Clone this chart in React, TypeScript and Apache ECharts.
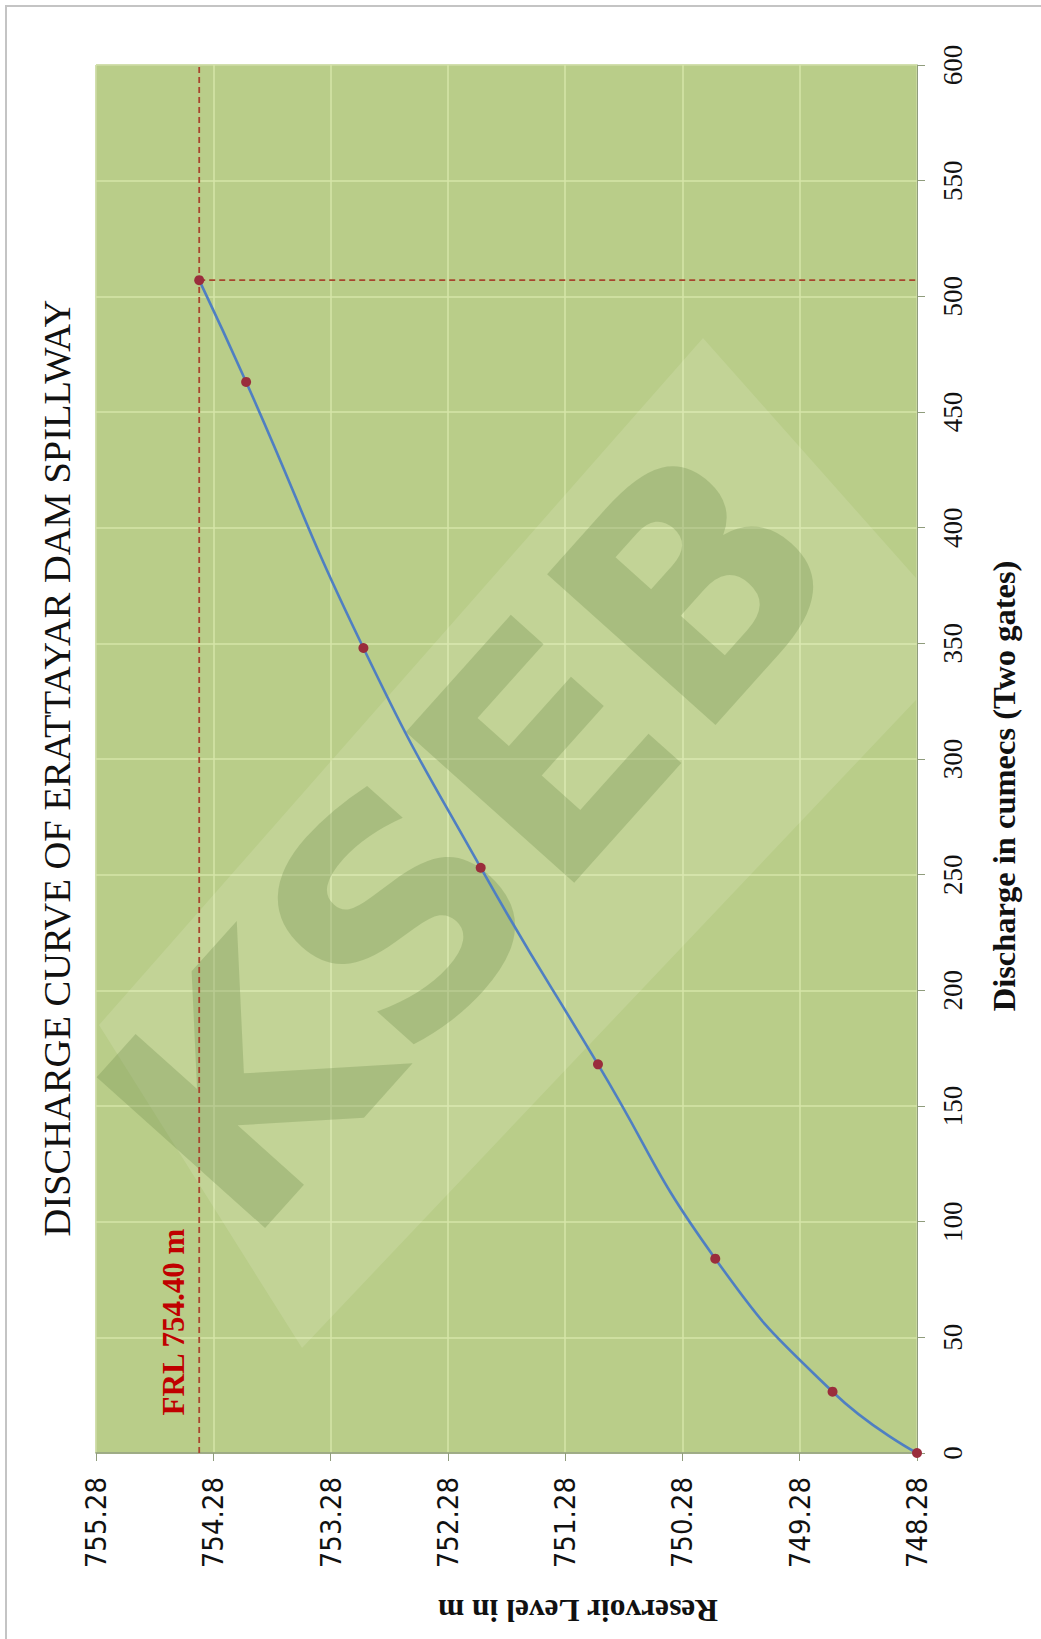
import React, { useEffect, useRef } from "react";
import * as echarts from "echarts";

const levels = [748.28, 749.0, 750.0, 751.0, 752.0, 753.0, 754.0, 754.4];
const discharges = [0, 26.5, 84, 168, 253, 348, 463, 507];
const frlLevel = 754.4;
const frlDischarge = 507;
const levelMin = 748.28;
const levelMax = 755.28;
const dischargeMin = 0;
const dischargeMax = 600;

const SERIF = '"Liberation Serif", "Times New Roman", serif';
const NARROW = '"Liberation Sans Narrow", "DejaVu Sans Condensed", "Arial Narrow", sans-serif';

export default function App() {
  const ref = useRef<HTMLDivElement>(null);
  useEffect(() => {
    if (!ref.current) return;
    const chart = echarts.init(ref.current, null, { renderer: "svg" });
    const pts = levels.map((l, i) => [l, discharges[i]]);
    const option = {
      animation: false,
      backgroundColor: "#ffffff",
      grid: {
        left: 96,
        right: 1041 - 917,
        top: 65,
        bottom: 1639 - 1453,
        show: true,
        backgroundColor: "#b9cd89",
        borderColor: "#8f9c7c",
        borderWidth: 1,
      },
      xAxis: {
        type: "value",
        position: "bottom",
        inverse: true,
        min: levelMin,
        max: levelMax,
        interval: 1,
        axisLine: { show: true, lineStyle: { color: "#8f9c7c", width: 1.5 } },
        axisTick: { show: true, length: 8, lineStyle: { color: "#8f9c7c" } },
        axisLabel: {
          rotate: 90,
          margin: 24,
          color: "#111",
          fontFamily: NARROW,
          fontSize: 29,
          formatter: (v: number) => v.toFixed(2),
        },
        splitLine: { show: true, lineStyle: { color: "#d6e5a9", width: 1.5 } },
      },
      yAxis: {
        type: "value",
        position: "right",
        min: dischargeMin,
        max: dischargeMax,
        interval: 50,
        axisLine: { show: true, lineStyle: { color: "#8f9c7c", width: 1 } },
        axisTick: { show: true, length: 8, lineStyle: { color: "#8f9c7c" } },
        axisLabel: {
          rotate: 90,
          margin: 22,
          color: "#111",
          fontFamily: SERIF,
          fontSize: 27,
        },
        splitLine: { show: true, lineStyle: { color: "#d6e5a9", width: 1.5 } },
      },
      graphic: [
        {
          type: "rect",
          shape: { x: 6, y: 6, width: 1200, height: 1800 },
          style: { fill: "none", stroke: "#c4c4c4", lineWidth: 2 },
          silent: true,
          z: -10,
        },
        {
          type: "polygon",
          shape: { points: [[99, 1025], [703, 338], [916, 578], [916, 700], [302, 1348]] },
          style: { fill: "rgba(255,255,240,0.13)" },
          silent: true,
          z: 1,
        },
        {
          type: "text",
          x: 470,
          y: 838,
          rotation: 0.84,
          style: {
            text: "KSEB",
            font: 'bold 310px "DejaVu Sans", sans-serif',
            fill: "rgba(110,140,75,0.3)",
            textAlign: "center",
            textVerticalAlign: "middle",
            align: "center",
            verticalAlign: "middle",
          },
          silent: true,
          z: 1,
        },
        {
          type: "text",
          x: 57,
          y: 768,
          rotation: Math.PI / 2,
          style: {
            text: "DISCHARGE CURVE OF ERATTAYAR DAM SPILLWAY",
            font: "38.5px " + SERIF,
            fill: "#111",
            textAlign: "center",
            textVerticalAlign: "middle",
            align: "center",
            verticalAlign: "middle",
          },
          z: 10,
        },
        {
          type: "text",
          x: 1004,
          y: 786,
          rotation: Math.PI / 2,
          style: {
            text: "Discharge in cumecs (Two gates)",
            font: "bold 32.5px " + SERIF,
            fill: "#111",
            textAlign: "center",
            textVerticalAlign: "middle",
            align: "center",
            verticalAlign: "middle",
          },
          z: 10,
        },
        {
          type: "text",
          x: 578,
          y: 1610,
          rotation: Math.PI,
          style: {
            text: "Reservoir Level in m",
            font: "bold 31.5px " + SERIF,
            fill: "#111",
            textAlign: "center",
            textVerticalAlign: "middle",
            align: "center",
            verticalAlign: "middle",
          },
          z: 10,
        },
        {
          type: "text",
          x: 173,
          y: 1322,
          rotation: Math.PI / 2,
          style: {
            text: "FRL 754.40 m",
            font: "bold 31px " + SERIF,
            fill: "#c00000",
            textAlign: "center",
            textVerticalAlign: "middle",
            align: "center",
            verticalAlign: "middle",
          },
          z: 10,
        },
      ],
      series: [
        {
          type: "line",
          name: "FRL level",
          data: [
            [frlLevel, dischargeMin],
            [frlLevel, dischargeMax],
          ],
          symbol: "none",
          lineStyle: { color: "#a8452e", width: 1.8, type: [6, 4] },
          z: 3,
        },
        {
          type: "line",
          name: "FRL discharge",
          data: [
            [frlLevel, frlDischarge],
            [levelMin, frlDischarge],
          ],
          symbol: "none",
          lineStyle: { color: "#a8452e", width: 1.8, type: [6, 4] },
          z: 3,
        },
        {
          type: "line",
          name: "Discharge curve",
          data: pts,
          smooth: true,
          symbol: "circle",
          symbolSize: 10,
          itemStyle: { color: "#9a2d3c", borderWidth: 0 },
          lineStyle: { color: "#4f7fc2", width: 2.6 },
          z: 4,
        },
      ],
    };
    chart.setOption(option as any);
    return () => chart.dispose();
  }, []);
  return (
    <div
      ref={ref}
      style={{ position: "absolute", left: 0, top: 0, width: 1041, height: 1639 }}
    />
  );
}
